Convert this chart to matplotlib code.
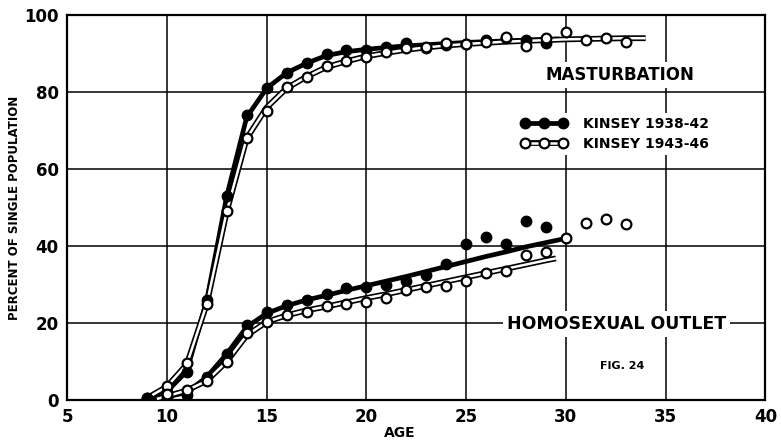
import matplotlib
matplotlib.use("Agg")
import matplotlib.pyplot as plt
from matplotlib.lines import Line2D
from matplotlib.legend_handler import HandlerTuple

# ---------------- data ----------------
# Masturbation, Kinsey 1938-42 (filled)
mast_old_age = [9, 10, 11, 12, 13, 14, 15, 16, 17, 18, 19, 20, 21, 22, 23, 24, 25, 26, 27, 28, 29]
mast_old_pct = [0.5, 2, 7.3, 26, 53, 74, 81, 85, 87.5, 90, 91, 91, 91.7, 92.7, 91.5, 92.3, 92.5, 93.5, 94, 93.5, 92.7]
# Masturbation, Kinsey 1943-46 (open)
mast_new_age = [10, 11, 12, 13, 14, 15, 16, 17, 18, 19, 20, 21, 22, 23, 24, 25, 26, 27, 28, 29, 30, 31, 32, 33]
mast_new_pct = [3.6, 9.6, 25, 49, 68, 75, 81.3, 84, 86.8, 88, 89, 90.4, 91.4, 91.7, 92.7, 92.5, 93, 94.3, 92, 94, 95.5, 93.5, 94, 93]

# Homosexual outlet, Kinsey 1938-42 (filled)
homo_old_age = [9, 10, 11, 12, 13, 14, 15, 16, 17, 18, 19, 20, 21, 22, 23, 24, 25, 26, 27, 28, 29]
homo_old_pct = [0.5, 0.8, 1.3, 6, 12, 19.5, 23, 24.7, 26, 27.5, 29, 29.3, 30, 31, 32.5, 35.3, 40.5, 42.4, 40.5, 46.5, 44.9]
# Homosexual outlet, Kinsey 1943-46 (open)
homo_new_age = [10, 11, 12, 13, 14, 15, 16, 17, 18, 19, 20, 21, 22, 23, 24, 25, 26, 27, 28, 29, 30, 31, 32, 33]
homo_new_pct = [1.5, 2.6, 5, 10, 17.4, 20.3, 22, 23, 24.5, 25, 25.5, 26.5, 28.6, 29.4, 29.6, 31, 33, 33.5, 37.7, 38.4, 42, 46, 47, 45.7]

# fitted curves drawn through the points
mast_old_fit_age = [9, 10, 11, 12, 13, 14, 15, 16, 17, 18, 19, 20, 21, 22, 23, 24, 25, 26, 27, 28, 29, 29.6]
mast_old_fit_pct = [0.5, 2.2, 7.5, 26, 53, 73.5, 81, 85, 87.5, 89.5, 90.5, 91.1, 91.6, 92, 92.3, 92.6, 92.9, 93.1, 93.3, 93.5, 93.7, 93.8]
mast_new_fit_age = [9, 10, 11, 12, 13, 14, 15, 16, 17, 18, 19, 20, 21, 22, 23, 24, 25, 26, 27, 28, 29, 30, 31, 32, 33, 34]
mast_new_fit_pct = [0.5, 3.5, 9.3, 25, 49, 68, 76, 81, 84, 86.5, 88, 89.3, 90.2, 91, 91.6, 92.1, 92.5, 92.8, 93.1, 93.3, 93.5, 93.7, 93.8, 93.9, 94, 94]
homo_old_fit_age = [9, 10, 11, 12, 13, 14, 15, 16, 17, 18, 19, 20, 21, 22, 23, 24, 25, 26, 27, 28, 29, 30]
homo_old_fit_pct = [0.5, 0.8, 2, 6, 12, 19, 22.5, 24.5, 26, 27.2, 28.5, 29.7, 30.9, 32.1, 33.4, 34.7, 36, 37.3, 38.5, 39.8, 40.9, 42]
homo_new_fit_age = [9.5, 10, 11, 12, 13, 14, 15, 16, 17, 18, 19, 20, 21, 22, 23, 24, 25, 26, 27, 28, 29, 29.5]
homo_new_fit_pct = [0.3, 1, 2.5, 5, 10, 16.8, 20.3, 22, 23.3, 24.3, 25.4, 26.5, 27.5, 28.6, 29.7, 30.8, 31.9, 33, 34.1, 35.2, 36.3, 36.8]

x_ticks = [5, 10, 15, 20, 25, 30, 35, 40]
y_ticks = [0, 20, 40, 60, 80, 100]
legend_labels = ['KINSEY 1938-42', 'KINSEY 1943-46']

# ---------------- figure ----------------
plt.rcParams['font.family'] = ['DejaVu Sans']
fig = plt.figure(figsize=(7.81, 4.44), dpi=100)
ax = fig.add_axes([0.086, 0.099, 0.894, 0.867])
ax.set_xlim(5, 40)
ax.set_ylim(0, 100)
ax.set_xticks(x_ticks)
ax.set_yticks(y_ticks)
ax.set_xticklabels([str(v) for v in x_ticks], fontsize=12, fontweight='bold')
ax.set_yticklabels([str(v) for v in y_ticks], fontsize=12, fontweight='bold')
ax.tick_params(length=0, pad=6)
ax.grid(True, color='black', linewidth=1.1, zorder=0)
ax.set_axisbelow(True)
for s in ax.spines.values():
    s.set_linewidth(1.6)

ax.set_xlabel('AGE', fontsize=10, fontweight='bold')
ax.set_ylabel('PERCENT OF SINGLE POPULATION', fontsize=8.5, fontweight='bold')
ax.xaxis.set_label_coords(0.477, -0.068)
ax.yaxis.set_label_coords(-0.066, 0.5)


def filled_series(fa, fp, a, p):
    ax.plot(fa, fp, color='black', lw=3.4, solid_capstyle='round', zorder=3)
    ax.plot(a, p, 'o', color='black', ms=7.5, zorder=5)


def open_series(fa, fp, a, p):
    ax.plot(fa, fp, color='black', lw=4.2, solid_capstyle='butt', zorder=3)
    ax.plot(fa, fp, color='white', lw=1.8, solid_capstyle='butt', zorder=4)
    ax.plot(a, p, 'o', mfc='white', mec='black', mew=1.6, ms=7, zorder=6)


open_series(mast_new_fit_age, mast_new_fit_pct, mast_new_age, mast_new_pct)
filled_series(mast_old_fit_age, mast_old_fit_pct, mast_old_age, mast_old_pct)
open_series(homo_new_fit_age, homo_new_fit_pct, homo_new_age, homo_new_pct)
filled_series(homo_old_fit_age, homo_old_fit_pct, homo_old_age, homo_old_pct)

bbox = dict(facecolor='white', edgecolor='none', pad=3)
ax.text(32.7, 84.5, 'MASTURBATION', fontsize=12, fontweight='bold', ha='center', va='center',
        bbox=bbox, zorder=2)
ax.text(32.55, 19.8, 'HOMOSEXUAL OUTLET', fontsize=12.5, fontweight='bold', ha='center', va='center',
        bbox=bbox, zorder=2)
ax.text(32.8, 8.8, 'FIG. 24', fontsize=8, fontweight='bold', ha='center', va='center', zorder=2)

h1 = Line2D([], [], color='black', lw=3.4, marker='o', ms=7.5)
h2a = Line2D([], [], color='black', lw=4.2)
h2b = Line2D([], [], color='white', lw=1.8, marker='o', mfc='white', mec='black', mew=1.6, ms=7)
leg = ax.legend([h1, (h2a, h2b)], legend_labels, numpoints=3,
                handler_map={tuple: HandlerTuple(ndivide=1, pad=0)},
                loc='upper left', bbox_to_anchor=(0.634, 0.765), frameon=True,
                prop={'size': 10, 'weight': 'bold'}, handlelength=3.3,
                labelspacing=0.45, borderpad=0.3, handletextpad=1.2)
leg.get_frame().set_facecolor('white')
leg.get_frame().set_edgecolor('none')
leg.get_frame().set_alpha(1)
leg.set_zorder(2)

fig.savefig('out.png', dpi=100)
